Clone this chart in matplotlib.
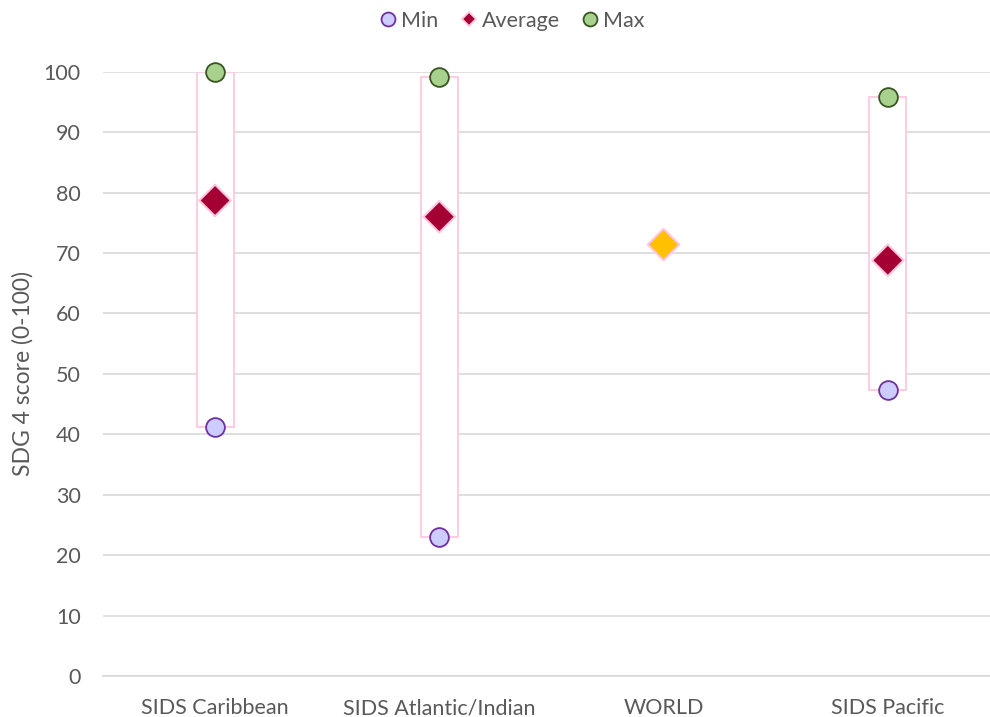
import matplotlib.pyplot as plt
from matplotlib.lines import Line2D
import numpy as np

plt.rcParams['font.family'] = ['Lato', 'DejaVu Sans']

categories = ['SIDS Caribbean', 'SIDS Atlantic/Indian', 'WORLD', 'SIDS Pacific']
min_vals = [41.3, 23.0, np.nan, 47.4]
avg_vals = [78.7, 76.0, 71.4, 68.8]
max_vals = [100.0, 99.2, np.nan, 95.8]

grey = '#595959'
pink = '#FFC7DF'
avg_colors = ['#A50034', '#A50034', '#FFC000', '#A50034']

fig = plt.figure(figsize=(9.9, 7.17), dpi=100)
ax = fig.add_axes([0.104, 0.057, 0.906, 0.843])
x = np.arange(len(categories))

# range boxes
lo = np.array(min_vals)
hi = np.array(max_vals)
ax.bar(x, hi - lo, bottom=lo, width=0.165, color='white', edgecolor=pink,
       linewidth=1.3, zorder=2)

ax.plot(x, min_vals, 'o', ms=13.5, mfc='#CCCCFF', mec='#7030A0', mew=1.3,
        ls='none', zorder=4, clip_on=False)
ax.plot(x, max_vals, 'o', ms=13.5, mfc='#A9D18E', mec='#375623', mew=1.3,
        ls='none', zorder=4, clip_on=False)
ax.scatter(x, avg_vals, marker='D', s=260, c=avg_colors, edgecolors=pink,
           linewidths=1.5, zorder=4)

ax.set_xlim(-0.5, len(categories) - 0.5)
ax.set_ylim(0, 100)
ax.set_yticks(np.arange(0, 101, 10))
ax.set_xticks(x)
ax.set_xticklabels(categories)
ax.grid(axis='y', color='#D9D9D9', linewidth=1.2, zorder=0)
ax.set_axisbelow(True)
for s in ['top', 'right', 'left']:
    ax.spines[s].set_visible(False)
ax.spines['bottom'].set_color('#D9D9D9')
ax.spines['bottom'].set_linewidth(1.2)
ax.tick_params(axis='both', length=0, labelsize=15.5, colors=grey)
ax.tick_params(axis='y', pad=16)
ax.tick_params(axis='x', pad=16)
ax.set_ylabel('SDG 4 score (0-100)', fontsize=16.5, color=grey, labelpad=7)

handles = [
    Line2D([], [], marker='o', ls='none', ms=10, mfc='#CCCCFF', mec='#7030A0', mew=1.3),
    Line2D([], [], marker='D', ls='none', ms=7, mfc='#A50034', mec=pink, mew=1.3),
    Line2D([], [], marker='o', ls='none', ms=10, mfc='#A9D18E', mec='#375623', mew=1.3),
]
leg = fig.legend(handles, ['Min', 'Average', 'Max'], loc='upper center',
                 bbox_to_anchor=(0.515, 1.012), ncol=3, frameon=False,
                 fontsize=15.5, handletextpad=0.0, columnspacing=0.8,
                 handlelength=1.2)
for t in leg.get_texts():
    t.set_color(grey)

fig.savefig('out.png', dpi=100)
